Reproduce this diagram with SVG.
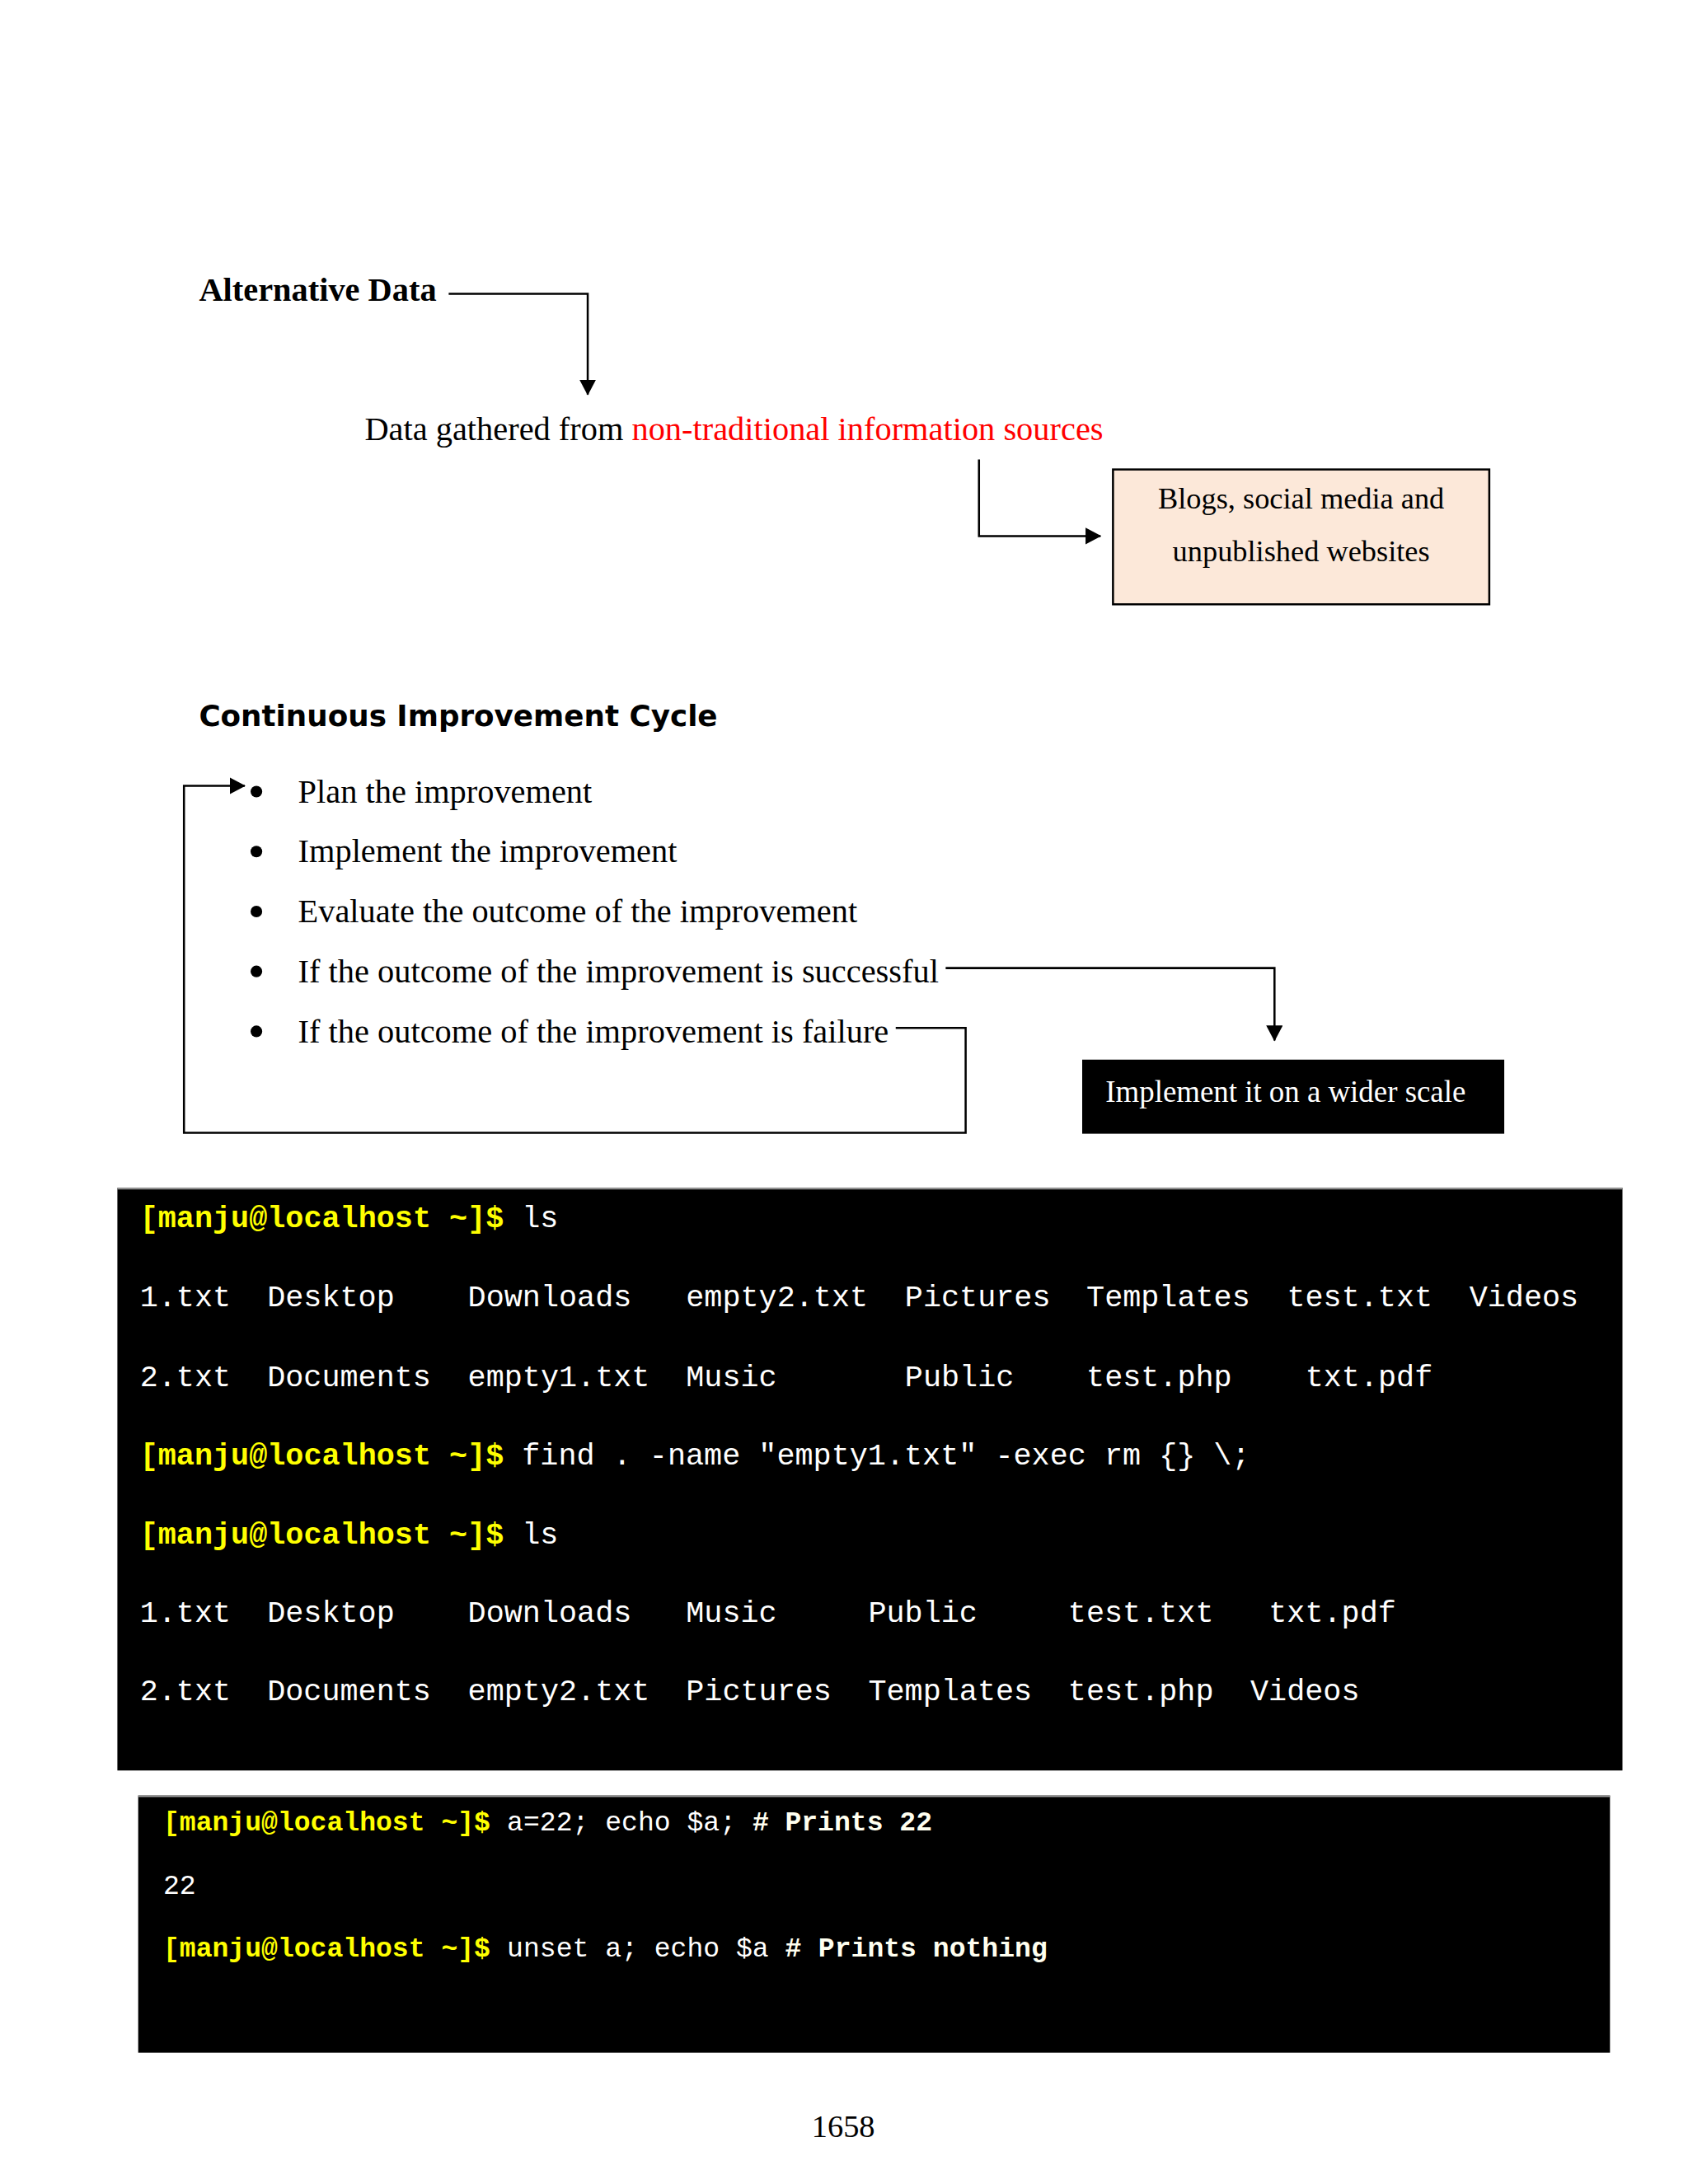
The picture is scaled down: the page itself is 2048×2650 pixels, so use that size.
<svg xmlns="http://www.w3.org/2000/svg" width="2048" height="2650" viewBox="0 0 2048 2650">
<style>
.serif{font-family:"Liberation Serif","Times New Roman",serif;}
.sans{font-family:"DejaVu Sans","Liberation Sans",Arial,sans-serif;}
.mono{font-family:"Liberation Mono","Courier New",monospace;}
.t1{font-size:36.45px;}
.t2{font-size:32.77px;}
.pr{fill:#FFFF00;font-weight:bold;}
.out{fill:#FFFFFF;}
.cm{fill:#FFFFF0;font-weight:bold;}
.conn{fill:none;stroke:#000;stroke-width:2.5;}
.item{font-size:40px;fill:#000;}
</style>
<defs>
<marker id="arr" markerUnits="userSpaceOnUse" markerWidth="19" markerHeight="20" refX="18" refY="10" orient="auto">
<path d="M0,0 L19,10 L0,20 z" fill="#000"/>
</marker>
</defs>
<rect width="2048" height="2650" fill="#FFFFFF"/>
<g transform="scale(1.01)">
<g id="alt-data-title">
<text class="serif" x="239" y="361" font-size="40" font-weight="bold" fill="#000">Alternative Data</text>
</g>
<g id="alt-data-definition">
<text class="serif" x="438" y="529" font-size="40" fill="#000">Data gathered from <tspan fill="#FF0000">non-traditional information sources</tspan></text>
</g>
<g id="sources-box">
<rect x="1337" y="564" width="452" height="162" fill="#FCE8D9" stroke="#000" stroke-width="2.5"/>
<text class="serif" x="1563" y="611" font-size="36" text-anchor="middle" fill="#000">Blogs, social media and</text>
<text class="serif" x="1563" y="674" font-size="36" text-anchor="middle" fill="#000">unpublished websites</text>
</g>

<g id="cycle-title">
<text class="sans" x="239" y="872" font-size="36" font-weight="bold" fill="#000" textLength="623" lengthAdjust="spacingAndGlyphs">Continuous Improvement Cycle</text>
</g>
<g id="step-plan">
<circle cx="308" cy="951" r="7" fill="#000"/>
<text class="serif item" x="358" y="964">Plan the improvement</text>
</g>
<g id="step-implement">
<circle cx="308" cy="1023" r="7" fill="#000"/>
<text class="serif item" x="358" y="1036">Implement the improvement</text>
</g>
<g id="step-evaluate">
<circle cx="308" cy="1095" r="7" fill="#000"/>
<text class="serif item" x="358" y="1108">Evaluate the outcome of the improvement</text>
</g>
<g id="step-success">
<circle cx="308" cy="1167" r="7" fill="#000"/>
<text class="serif item" x="358" y="1180">If the outcome of the improvement is successful</text>
</g>
<g id="step-failure">
<circle cx="308" cy="1239" r="7" fill="#000"/>
<text class="serif item" x="358" y="1252">If the outcome of the improvement is failure</text>
</g>
<g id="wider-scale-box">
<rect x="1300" y="1273" width="507" height="89" fill="#000"/>
<text class="serif" x="1328" y="1324" font-size="36.5" fill="#FFFFFF">Implement it on a wider scale</text>
</g>

<g id="connectors">
<path class="conn" d="M539,353 H706 V474" marker-end="url(#arr)"/>
<path class="conn" d="M1176,552 V644 H1322" stroke-width="3" marker-end="url(#arr)"/>
<path class="conn" d="M1136,1163 H1531 V1250" marker-end="url(#arr)"/>
<path class="conn" d="M1076,1235 H1160 V1361 H221 V944 H294" stroke-width="2.2" marker-end="url(#arr)"/>
</g>

<g id="terminal-find">
<rect x="141" y="1427" width="1808" height="700" fill="#000"/>
<line x1="141" y1="1428" x2="1949" y2="1428" stroke="#999" stroke-width="2"/>
<g class="mono t1">
<text y="1474"><tspan class="pr" x="168">[manju@localhost ~]$</tspan><tspan class="out" x="627">ls</tspan></text>
<text y="1569" class="out"><tspan x="168">1.txt</tspan><tspan x="321">Desktop</tspan><tspan x="562">Downloads</tspan><tspan x="824">empty2.txt</tspan><tspan x="1087">Pictures</tspan><tspan x="1305">Templates</tspan><tspan x="1546">test.txt</tspan><tspan x="1765">Videos</tspan></text>
<text y="1665" class="out"><tspan x="168">2.txt</tspan><tspan x="321">Documents</tspan><tspan x="562">empty1.txt</tspan><tspan x="824">Music</tspan><tspan x="1087">Public</tspan><tspan x="1305">test.php</tspan><tspan x="1568">txt.pdf</tspan></text>
<text y="1759"><tspan class="pr" x="168">[manju@localhost ~]$</tspan><tspan class="out" x="627">find . -name "empty1.txt" -exec rm {} \;</tspan></text>
<text y="1854"><tspan class="pr" x="168">[manju@localhost ~]$</tspan><tspan class="out" x="627">ls</tspan></text>
<text y="1949" class="out"><tspan x="168">1.txt</tspan><tspan x="321">Desktop</tspan><tspan x="562">Downloads</tspan><tspan x="824">Music</tspan><tspan x="1043">Public</tspan><tspan x="1283">test.txt</tspan><tspan x="1524">txt.pdf</tspan></text>
<text y="2043" class="out"><tspan x="168">2.txt</tspan><tspan x="321">Documents</tspan><tspan x="562">empty2.txt</tspan><tspan x="824">Pictures</tspan><tspan x="1043">Templates</tspan><tspan x="1283">test.php</tspan><tspan x="1502">Videos</tspan></text>
</g>
</g>

<g id="terminal-unset">
<rect x="166" y="2157" width="1768" height="309" fill="#000"/>
<line x1="166" y1="2158" x2="1934" y2="2158" stroke="#999" stroke-width="2"/>
<g class="mono t2">
<text y="2199"><tspan class="pr" x="196">[manju@localhost ~]$</tspan><tspan class="out" x="609">a=22; echo $a;</tspan><tspan class="cm" x="904">#</tspan><tspan class="cm" x="943">Prints 22</tspan></text>
<text y="2275" class="out"><tspan x="196">22</tspan></text>
<text y="2350"><tspan class="pr" x="196">[manju@localhost ~]$</tspan><tspan class="out" x="609">unset a; echo $a</tspan><tspan class="cm" x="943">#</tspan><tspan class="cm" x="983">Prints nothing</tspan></text>
</g>
</g>

<g id="page-number">
<text class="serif" x="1013" y="2567" font-size="38" text-anchor="middle" fill="#000">1658</text>
</g>
</g>
</svg>
